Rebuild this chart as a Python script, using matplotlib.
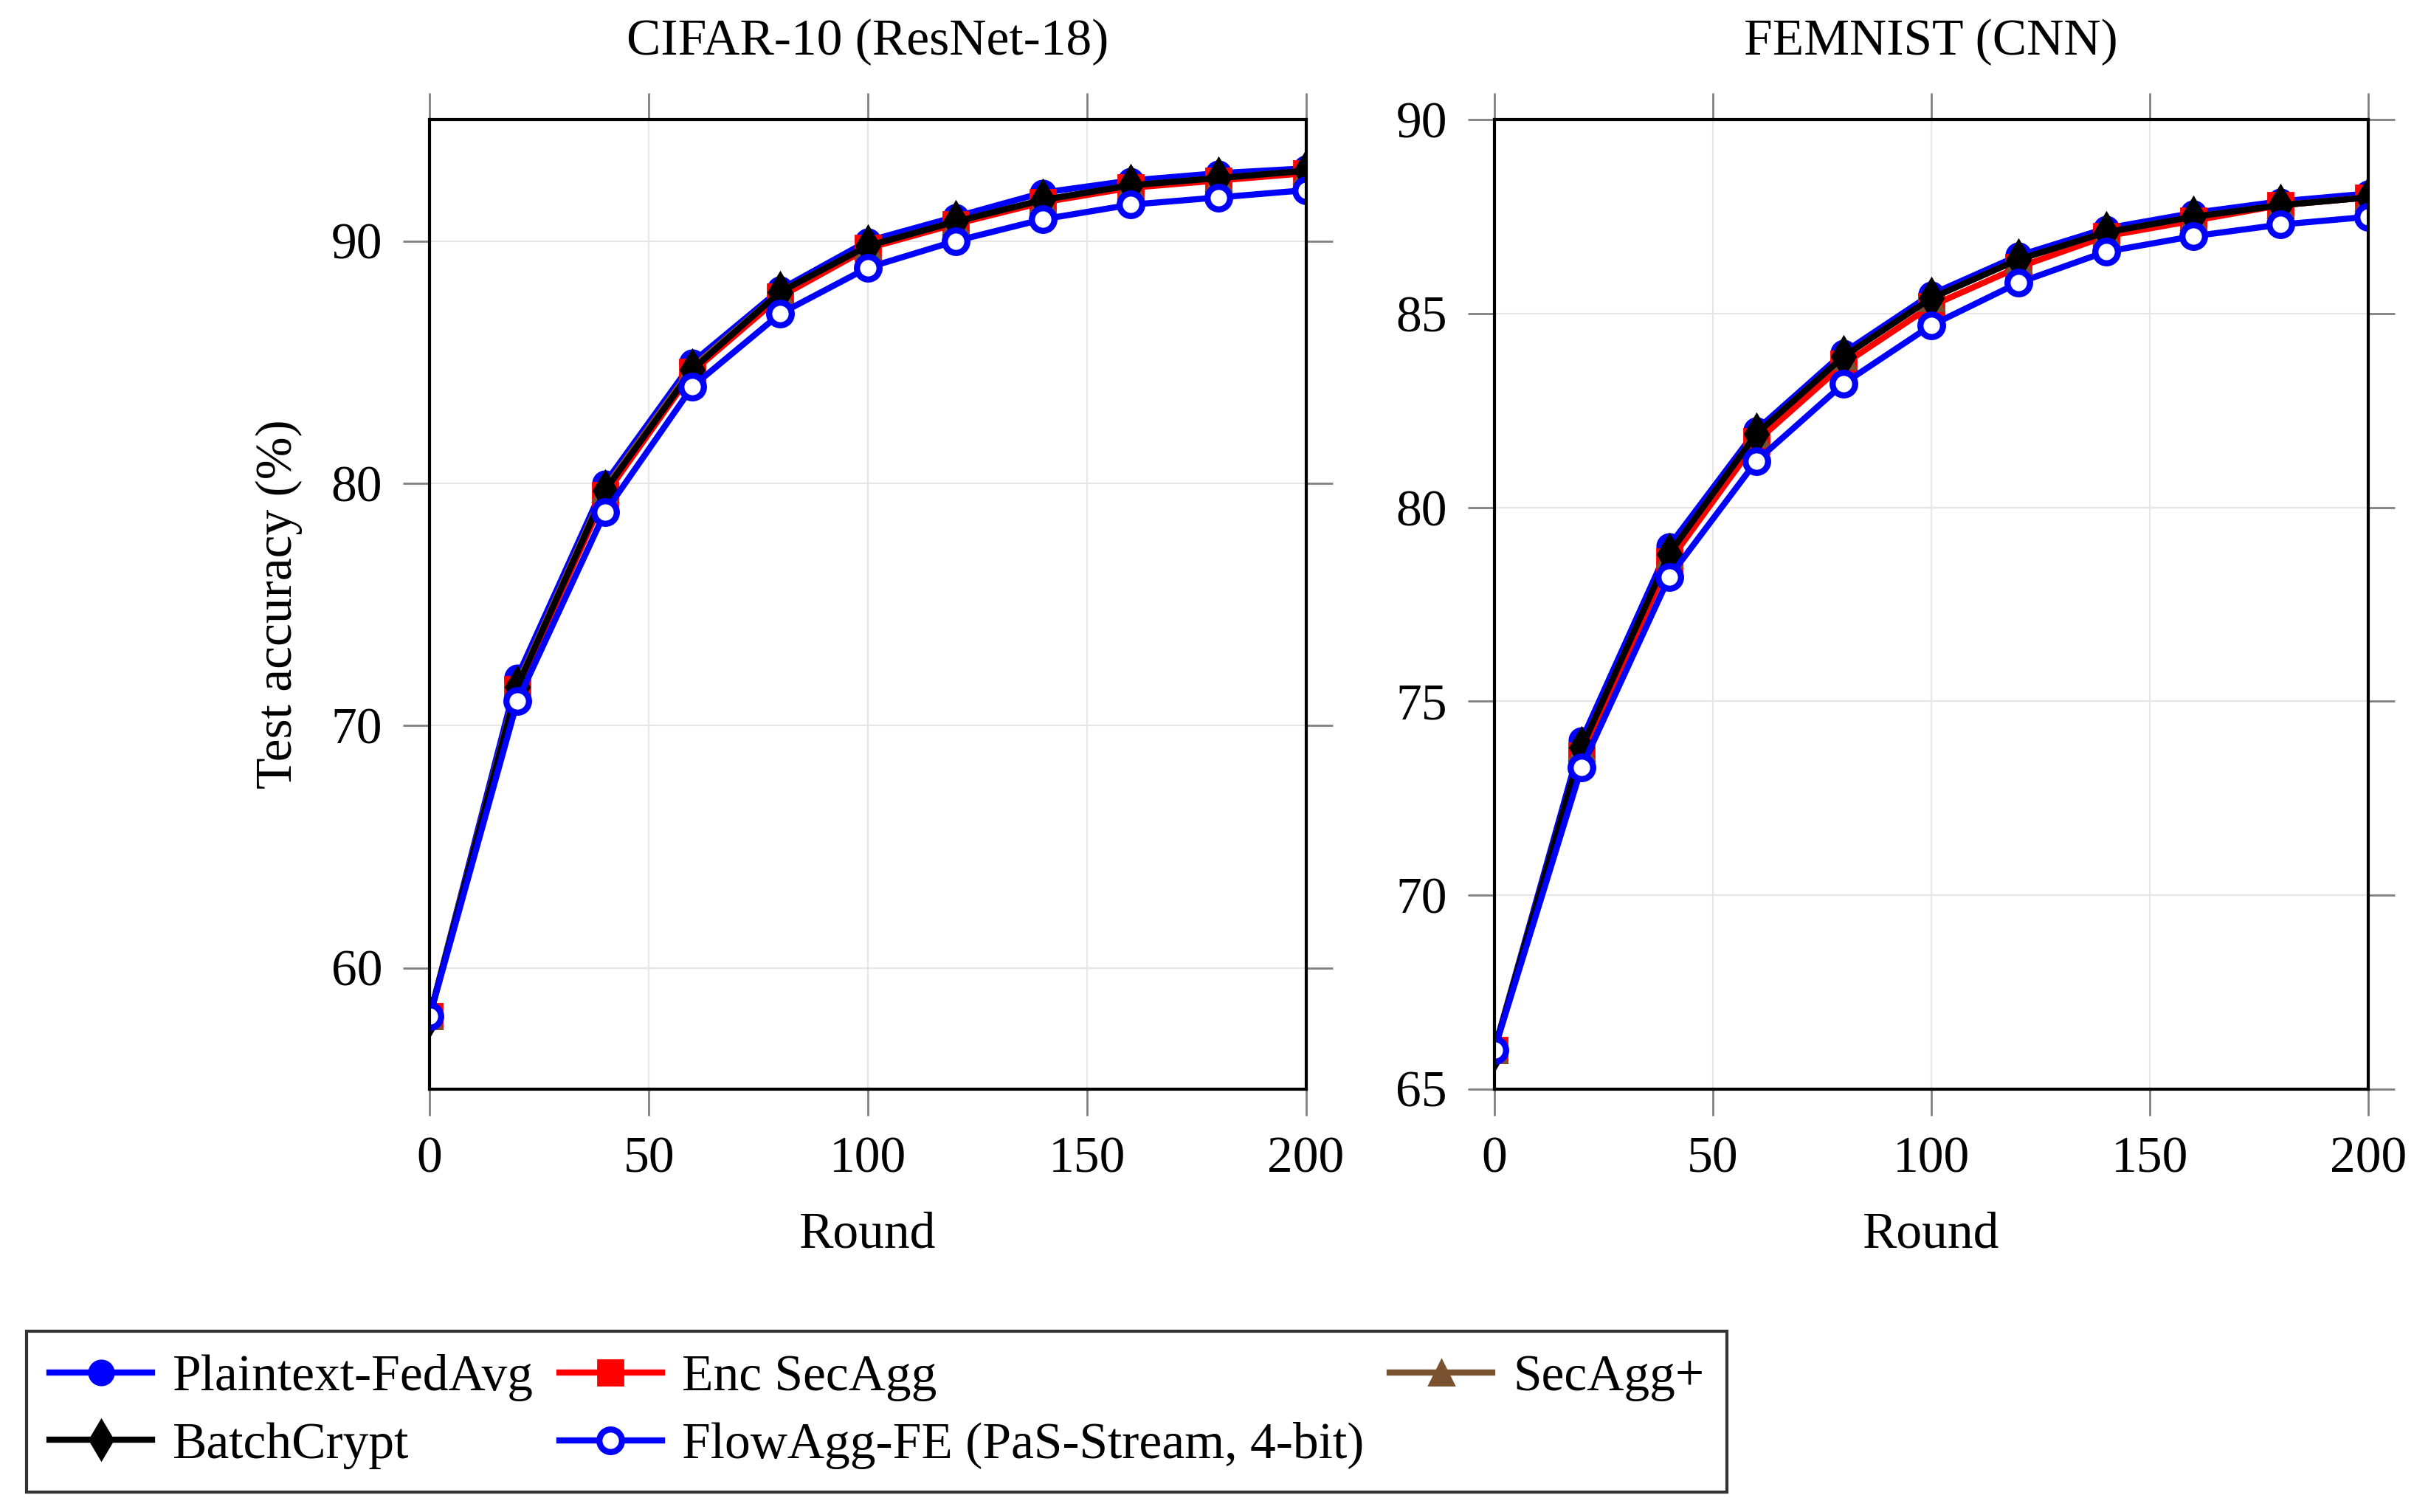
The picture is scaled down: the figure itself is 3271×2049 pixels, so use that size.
import matplotlib
matplotlib.use("Agg")
import matplotlib.pyplot as plt

rounds = [0, 20, 40, 60, 80, 100, 120, 140, 160, 180, 200]

# CIFAR-10 (ResNet-18)
cifar_plain = [58, 72.0, 80.0, 85.0, 88.0, 90.0, 91.0, 92.0, 92.5, 92.8, 93.0]
cifar_enc = [58, 71.5, 79.5, 84.6, 87.7, 89.7, 90.7, 91.6, 92.2, 92.5, 92.8]
cifar_secagg = [58, 71.7, 79.8, 84.8, 87.9, 89.8, 90.8, 91.7, 92.3, 92.6, 92.9]
cifar_batch = [58, 71.6, 79.7, 84.7, 87.9, 89.8, 90.8, 91.7, 92.3, 92.6, 92.9]
cifar_flow = [58, 71.0, 78.8, 84.0, 87.0, 88.9, 90.0, 90.9, 91.5, 91.8, 92.1]

# FEMNIST (CNN)
fem_plain = [66, 74.0, 79.0, 82.0, 84.0, 85.5, 86.5, 87.2, 87.6, 87.9, 88.1]
fem_enc = [66, 73.6, 78.6, 81.7, 83.7, 85.2, 86.2, 87.0, 87.4, 87.8, 88.0]
fem_secagg = [66, 73.8, 78.8, 81.9, 83.9, 85.4, 86.4, 87.1, 87.5, 87.8, 88.0]
fem_batch = [66, 73.8, 78.8, 81.9, 83.9, 85.4, 86.4, 87.1, 87.5, 87.8, 88.0]
fem_flow = [66, 73.3, 78.2, 81.2, 83.2, 84.7, 85.8, 86.6, 87.0, 87.3, 87.5]

labels = ["Plaintext-FedAvg", "Enc SecAgg", "SecAgg+", "BatchCrypt",
          "FlowAgg-FE (PaS-Stream, 4-bit)"]

plt.rcParams['font.family'] = ['Liberation Serif', 'DejaVu Serif']
fs = 25

fig = plt.figure(figsize=(16.355, 10.245), dpi=200)
ax1 = fig.add_axes([0.178, 0.2798, 0.363, 0.6409])
ax2 = fig.add_axes([0.619, 0.2798, 0.362, 0.6409])

def draw(ax, series, title, ylim, yticks):
    plain, enc, secagg, batch, flow = series
    lw = 3.0
    h = []
    h += ax.plot(rounds, plain, color='blue', lw=lw, marker='o', ms=12,
                 label=labels[0])
    h += ax.plot(rounds, enc, color='red', lw=lw, marker='s', ms=12,
                 label=labels[1])
    h += ax.plot(rounds, secagg, color='#7a5230', lw=lw, marker='^', ms=12,
                 label=labels[2])
    h += ax.plot(rounds, batch, color='black', lw=lw, marker='d', ms=14,
                 label=labels[3])
    h += ax.plot(rounds, flow, color='blue', lw=lw, marker='o', ms=11,
                 mfc='white', mew=3.0, label=labels[4])
    ax.set_xlim(0, 200)
    ax.set_ylim(*ylim)
    ax.set_xticks([0, 50, 100, 150, 200])
    ax.set_yticks(yticks)
    ax.grid(True, color='#e6e6e6', lw=0.8)
    ax.set_axisbelow(True)
    ax.tick_params(direction='out', length=13, width=1.0, color='#808080',
                   top=True, right=True, labelsize=fs, pad=10)
    for s in ax.spines.values():
        s.set_linewidth(1.5)
        s.set_color('black')
    ax.set_title(title, fontsize=fs, pad=32)
    ax.set_xlabel("Round", fontsize=fs, labelpad=14)
    return h

h = draw(ax1, [cifar_plain, cifar_enc, cifar_secagg, cifar_batch, cifar_flow],
         "CIFAR-10 (ResNet-18)", (55, 95), [60, 70, 80, 90])
draw(ax2, [fem_plain, fem_enc, fem_secagg, fem_batch, fem_flow],
     "FEMNIST (CNN)", (65, 90), [65, 70, 75, 80, 85, 90])
ax1.set_ylabel("Test accuracy (%)", fontsize=fs, labelpad=14)

# row-major order for a 3-column legend
order = [0, 3, 1, 4, 2]
leg = fig.legend([h[i] for i in order], [labels[i] for i in order], ncol=3,
                 loc='lower left', bbox_to_anchor=(0.011, 0.013),
                 borderaxespad=0.0,
                 fontsize=fs, frameon=True, fancybox=False, edgecolor='black',
                 handlelength=2.0, handletextpad=0.4, columnspacing=0.5,
                 borderpad=0.45, labelspacing=0.4)
leg.get_frame().set_linewidth(1.5)

fig.savefig("out.png", dpi=200)
